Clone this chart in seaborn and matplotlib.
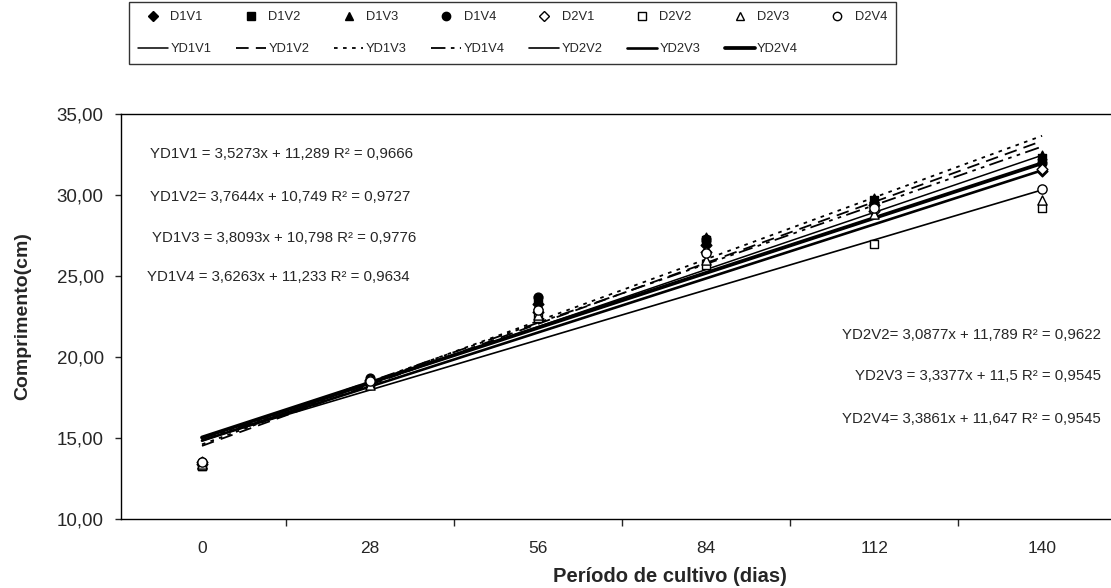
import numpy as np
import pandas as pd
import matplotlib
matplotlib.use("Agg")
import matplotlib.pyplot as plt
import seaborn as sns

# sampling days (category axis)
days = [0, 28, 56, 84, 112, 140]

D1V1 = [13.4, 18.5, 23.3, 26.9, 29.4, 31.5]
D1V2 = [13.3, 18.4, 23.5, 27.2, 29.7, 32.3]
D1V3 = [13.4, 18.6, 23.2, 27.4, 29.8, 32.5]
D1V4 = [13.5, 18.7, 23.7, 27.3, 29.5, 32.0]
D2V1 = [13.5, 18.6, 22.8, 26.5, 29.0, 31.6]
D2V2 = [13.3, 18.4, 22.4, 25.7, 27.0, 29.2]
D2V3 = [13.4, 18.3, 22.6, 26.0, 28.8, 29.7]
D2V4 = [13.5, 18.5, 22.9, 26.4, 29.2, 30.4]

point_names = ["D1V1", "D1V2", "D1V3", "D1V4", "D2V1", "D2V2", "D2V3", "D2V4"]
point_vals = [D1V1, D1V2, D1V3, D1V4, D2V1, D2V2, D2V3, D2V4]

# trend lines as printed on the chart (x = 1..6)
trend_names = ["YD1V1", "YD1V2", "YD1V3", "YD1V4", "YD2V2", "YD2V3", "YD2V4"]
slopes = [3.5273, 3.7644, 3.8093, 3.6263, 3.0877, 3.3377, 3.3861]
intercepts = [11.289, 10.749, 10.798, 11.233, 11.789, 11.5, 11.647]
eq_text = [
    "YD1V1 = 3,5273x + 11,289 R² = 0,9666",
    "YD1V2= 3,7644x + 10,749 R² = 0,9727",
    "YD1V3 = 3,8093x + 10,798 R² = 0,9776",
    "YD1V4 = 3,6263x + 11,233 R² = 0,9634",
    "YD2V2= 3,0877x + 11,789 R² = 0,9622",
    "YD2V3 = 3,3377x + 11,5 R² = 0,9545",
    "YD2V4= 3,3861x + 11,647 R² = 0,9545",
]

sns.set_style("white")
plt.rcParams["font.family"] = ["Liberation Sans", "DejaVu Sans"]

fig = plt.figure(figsize=(11.11, 5.88), dpi=100)
ax = fig.add_axes([121 / 1111, 69 / 588, 990 / 1111, 405 / 588])

pos = np.arange(1, 7)

markers = ["D", "s", "^", "o", "D", "s", "^", "o"]
sizes = [30, 34, 40, 40, 30, 40, 44, 44]
handles = {}
for i in range(8):
    filled = i < 4
    sns.scatterplot(x=pos, y=point_vals[i], ax=ax, marker=markers[i], s=sizes[i],
                    color="black" if filled else "white", edgecolor="black",
                    linewidth=1, zorder=3)
    handles[point_names[i]] = plt.Line2D([], [], marker=markers[i], linestyle="none",
                                         markersize=5 if i % 4 == 0 else 6,
                                         markerfacecolor="black" if filled else "white",
                                         markeredgecolor="black")

dashes = [None, (7, 4), (2, 3), (8, 3, 2, 3, 2, 3), None, None, None]
widths = [1.1, 1.3, 1.3, 1.3, 1.2, 1.9, 2.7]
for i in range(7):
    y = slopes[i] * pos + intercepts[i]
    sns.lineplot(x=pos, y=y, ax=ax, color="black", linewidth=widths[i], zorder=2)
    ln = ax.lines[-1]
    if dashes[i] is not None:
        ln.set_dashes(dashes[i])
    handles[trend_names[i]] = plt.Line2D([], [], color="black", linewidth=widths[i],
                                         dashes=dashes[i] if dashes[i] else (None, None))

ax.set_xlim(0.518, 6.41)
ax.set_ylim(10, 35)
ax.set_yticks([10, 15, 20, 25, 30, 35])
ax.set_yticklabels(["10,00", "15,00", "20,00", "25,00", "30,00", "35,00"], fontsize=13.5)
ax.set_xticks(pos)
ax.set_xticklabels([str(d) for d in days], fontsize=12.5)
ax.set_xticks(np.arange(1.5, 6.5, 1), minor=True)
ax.tick_params(axis="x", which="major", length=0, pad=16)
ax.tick_params(axis="x", which="minor", length=5, width=1, direction="out", bottom=True)
ax.tick_params(axis="y", length=4.5, width=1, direction="out", left=True, pad=8)

for s in ["left", "bottom", "top"]:
    ax.spines[s].set_color("black")
    ax.spines[s].set_linewidth(1)
ax.spines["right"].set_visible(False)

ax.set_ylabel("Comprimento(cm)", fontsize=14, fontweight="bold")
ax.yaxis.set_label_coords(-0.091, 0.5)
ax.set_xlabel("Período de cultivo (dias)", fontsize=14.5, fontweight="bold")
ax.xaxis.set_label_coords(0.5545, -0.118)

# equations
left_y = [32.5, 29.9, 27.35, 24.95]
left_x = [0.69, 0.69, 0.70, 0.67]
for i in range(4):
    ax.text(left_x[i], left_y[i], eq_text[i], fontsize=10.8, va="center", ha="left")
right_y = [21.35, 18.8, 16.2]
for j in range(3):
    ax.text(6.35, right_y[j], eq_text[4 + j], fontsize=10.8, va="center", ha="right")

# legend: markers on the top row, trend lines on the bottom row
order = []
for i in range(8):
    order.append(point_names[i])
    if i < 7:
        order.append(trend_names[i])
leg = fig.legend([handles[k] for k in order], order, ncol=8, loc="upper left",
                 bbox_to_anchor=(129 / 1111, 1 - 2 / 588), fontsize=9.3,
                 frameon=True, fancybox=False, edgecolor="black",
                 handlelength=2.3, columnspacing=1.9, handletextpad=0.2,
                 borderpad=0.7, labelspacing=1.55, borderaxespad=0)
leg.get_frame().set_linewidth(1)

fig.savefig("out.png", dpi=100)
